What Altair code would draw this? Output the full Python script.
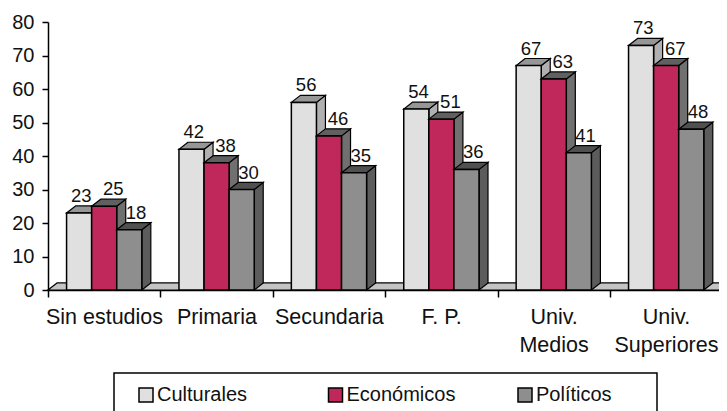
import json
import altair as alt
import pandas as pd

categories = ["Sin estudios", "Primaria", "Secundaria", "F. P.", "Univ. Medios", "Univ. Superiores"]
tick_labels = ["Sin estudios", "Primaria", "Secundaria", "F. P.", ["Univ.", "Medios"], ["Univ.", "Superiores"]]
series_names = ["Culturales", "Económicos", "Políticos"]
culturales = [23, 42, 56, 54, 67, 73]
economicos = [25, 38, 46, 51, 63, 67]
politicos = [18, 30, 35, 36, 41, 48]
series_values = [culturales, economicos, politicos]
front_colors = ["#e0e0e0", "#c0285c", "#8e8e8e"]
top_colors = ["#969696", "#606060", "#505050"]
side_colors = ["#b0b0b0", "#707070", "#5c5c5c"]
label_shift = [0.02, 0.08, 0.06]
floor_color = "#c4c4c4"

BAR = 0.2232      # bar width, in category units
DX = 0.08         # 3-D depth, in category units
DY = 2.1          # 3-D depth, in value units

xs = alt.Scale(domain=[0, 5.97], nice=False, zero=False)
ys = alt.Scale(domain=[0, 80], nice=False)
label_expr = "(" + json.dumps(tick_labels, ensure_ascii=False) + ")[datum.value] || ''"

x_axis = alt.Axis(values=list(range(6)), labelExpr=label_expr, labelOffset=56, labelOverlap=False,
                  labelFlush=False, labelFontSize=21.5, labelFont="Liberation Sans", labelColor="#111111",
                  tickColor="black", tickSize=7, tickWidth=1.5, domainColor="black", domainWidth=1.5,
                  labelPadding=9, labelLineHeight=28, labelBaseline="top", labelAlign="center", title=None, grid=False)
y_axis = alt.Axis(values=list(range(0, 81, 10)), labelOverlap=False, labelFontSize=20, labelFont="Liberation Sans",
                  labelColor="#111111", tickColor="black", tickSize=6, tickWidth=1.5, domainColor="black",
                  domainWidth=1.5, labelPadding=8, labelFlush=False, title=None, grid=False)

X = alt.X("x:Q", scale=xs, axis=x_axis)
Y = alt.Y("y:Q", scale=ys, axis=y_axis)

floor = pd.DataFrame({"x": [0, DX], "x2": [6, 6 + DX], "y": [0, DY]})
layers = [
    alt.Chart(floor).mark_area(orient="horizontal", color=floor_color, stroke="black", strokeWidth=1.2).encode(
        x=X, x2="x2:Q", y=Y)
]

labels = []
for s, (name, vals) in enumerate(zip(series_names, series_values)):
    front, side, top = [], [], []
    for i, (c, v) in enumerate(zip(categories, vals)):
        x0 = i + 0.5 + (s - 1.5) * BAR
        x1 = x0 + BAR
        front.append({"c": c, "serie": name, "x": x0, "x2": x1, "y": 0, "y2": v})
        side += [{"c": c, "x": x1, "y": v, "y2": 0}, {"c": c, "x": x1 + DX, "y": v + DY, "y2": DY}]
        top += [{"c": c, "x": x0, "x2": x1, "y": v}, {"c": c, "x": x0 + DX, "x2": x1 + DX, "y": v + DY}]
        labels.append({"x": (x0 + x1) / 2 + label_shift[s], "y": v, "t": str(v)})
    layers.append(alt.Chart(pd.DataFrame(side)).mark_area(color=side_colors[s], stroke="black", strokeWidth=1.2).encode(
        x=X, y=Y, y2="y2:Q", detail="c:N"))
    layers.append(alt.Chart(pd.DataFrame(top)).mark_area(orient="horizontal", color=top_colors[s], stroke="black", strokeWidth=1.2).encode(
        x=X, x2="x2:Q", y=Y, detail="c:N"))
    layers.append(alt.Chart(pd.DataFrame(front)).mark_rect(stroke="black", strokeWidth=1.5, opacity=1).encode(
        x=X, x2="x2:Q", y=Y, y2="y2:Q",
        color=alt.Color("serie:N", scale=alt.Scale(domain=series_names, range=front_colors),
                        legend=alt.Legend(title=None, orient="none", legendX=88, legendY=363, direction="horizontal",
                                          columns=3, gridAlign="all", columnPadding=59.5, symbolType="square",
                                          symbolSize=196, symbolStrokeColor="black", symbolStrokeWidth=1.5,
                                          symbolOpacity=1, labelFontSize=20, labelFont="Liberation Sans",
                                          labelColor="#111111", labelOffset=1, labelLimit=200))))

layers.append(alt.Chart(pd.DataFrame(labels)).mark_text(fontSize=18.5, font="Liberation Sans", color="#111111", dy=-17).encode(
    x=X, y=Y, text="t:N"))

# legend frame, cut by the picture's lower edge as in the reference
layers.append(alt.Chart(pd.DataFrame({"k": [0]})).mark_rect(fill=None, filled=False, stroke="black", strokeWidth=1.5).encode(
    x=alt.value(66), x2=alt.value(609), y=alt.value(351), y2=alt.value(420)))

chart = alt.layer(*layers).properties(
    width=671, height=268,
    autosize=alt.AutoSizeParams(type="none"),
    padding={"left": 40, "top": 14, "right": 0, "bottom": 121},
    background="white",
).configure_view(stroke=None)

chart.save("out.html", embed_options={"renderer": "svg", "actions": False})
